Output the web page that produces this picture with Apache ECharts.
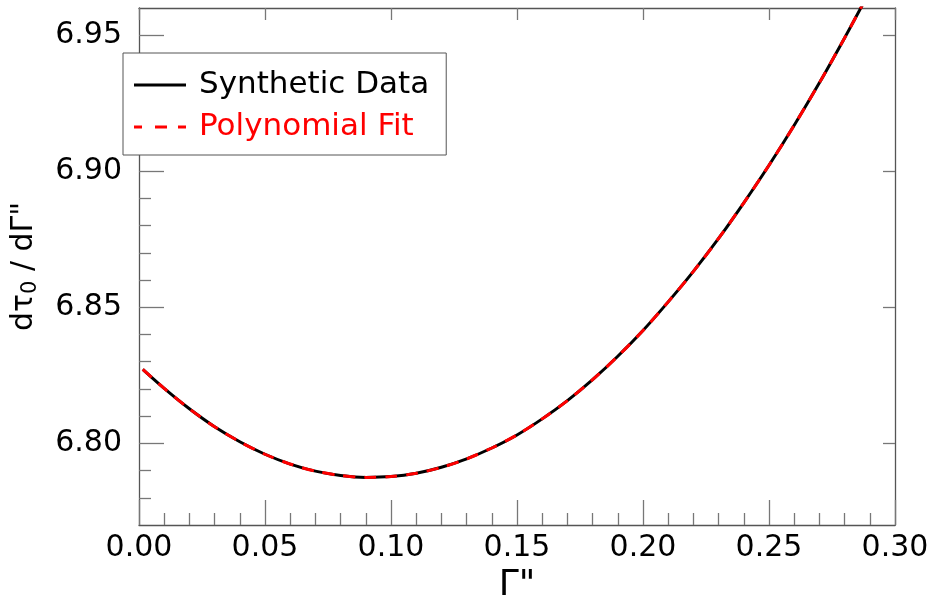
<!DOCTYPE html>
<html>
<head>
<meta charset="utf-8">
<script src="https://cdn.jsdelivr.net/npm/echarts@6/dist/echarts.min.js"></script>
<style>
html,body{margin:0;padding:0;background:#fff;}
#chart{width:935px;height:598px;}
</style>
</head>
<body>
<div id="chart"></div>
<script>
// Γ'' values (x)
const gamma = [0.0015, 0.01, 0.02, 0.03, 0.04, 0.05, 0.06, 0.07, 0.08, 0.09, 0.10,
  0.11, 0.12, 0.13, 0.14, 0.15, 0.16, 0.17, 0.18, 0.19, 0.20,
  0.21, 0.22, 0.23, 0.24, 0.25, 0.26, 0.27, 0.28, 0.287];
// dτ0/dΓ'' synthetic data
const synthetic = [6.8272, 6.8202, 6.8127, 6.8061, 6.8006, 6.7960, 6.7924, 6.7898, 6.7882, 6.7875, 6.7878,
  6.7890, 6.7912, 6.7943, 6.7983, 6.8031, 6.8090, 6.8157, 6.8234, 6.8320, 6.8415,
  6.8520, 6.8632, 6.8753, 6.8884, 6.9022, 6.9169, 6.9325, 6.9490, 6.9610];
// polynomial fit (indistinguishable from the data in the picture)
const polyFit = [6.8272, 6.8202, 6.8127, 6.8061, 6.8006, 6.7960, 6.7924, 6.7898, 6.7882, 6.7875, 6.7878,
  6.7890, 6.7912, 6.7943, 6.7983, 6.8031, 6.8090, 6.8157, 6.8234, 6.8320, 6.8415,
  6.8520, 6.8632, 6.8753, 6.8884, 6.9022, 6.9169, 6.9325, 6.9490, 6.9610];
const yMajorTicks = [6.80, 6.85, 6.90, 6.95];
const yMinorTicks = [6.78, 6.79, 6.81, 6.82, 6.83, 6.84, 6.86, 6.87, 6.88, 6.89, 6.91, 6.92, 6.93, 6.94];
const xMin = 0, xMax = 0.30, xStep = 0.05;
const yMin = 6.77, yMax = 6.96;

const font = 'DejaVu Sans';
const axisCol = '#555';
const tickCol = '#777';

const chart = echarts.init(document.getElementById('chart'), null, {renderer: 'canvas'});
const pairs = (ys) => gamma.map((g, i) => [g, ys[i]]);

chart.setOption({
  animation: false,
  backgroundColor: '#fff',
  grid: {left: 139, right: 40, top: 8, bottom: 73, containLabel: false, outerBoundsMode: 'none'},
  legend: {
    orient: 'vertical',
    left: 123, top: 53,
    padding: [15, 17, 11, 11],
    itemWidth: 52, itemHeight: 3, itemGap: 8,
    backgroundColor: '#fff',
    borderColor: axisCol, borderWidth: 1, borderRadius: 0,
    itemStyle: {borderWidth: 0},
    textStyle: {fontFamily: font, fontSize: 31, lineHeight: 34, color: '#000', padding: [0, 0, 0, 8]},
    data: [
      {name: 'Synthetic Data', icon: 'path://M0,0h52v3h-52z', textStyle: {color: '#000'}},
      {name: 'Polynomial Fit', icon: 'path://M0,0h8v3h-8z M21,0h12v3h-12z M44,0h8v3h-8z', textStyle: {color: '#ff0000'}}
    ]
  },
  xAxis: [
    {
      type: 'value', min: xMin, max: xMax, interval: xStep, position: 'bottom',
      name: 'Γ"', nameLocation: 'middle', nameGap: 40,
      nameTextStyle: {fontFamily: font, fontSize: 36, color: '#000'},
      axisLine: {show: true, lineStyle: {color: axisCol, width: 1.3}},
      axisTick: {show: true, inside: true, length: 25, lineStyle: {color: tickCol, width: 1.3}},
      minorTick: {show: true, splitNumber: 5, length: 12, lineStyle: {color: tickCol, width: 1.3}},
      axisLabel: {fontFamily: font, fontSize: 30, color: '#000', margin: 8,
        formatter: v => v.toFixed(2), showMinLabel: true, showMaxLabel: true},
      splitLine: {show: false}, minorSplitLine: {show: false}
    },
    {
      type: 'value', min: xMin, max: xMax, interval: xStep, position: 'top',
      axisLine: {show: true, lineStyle: {color: axisCol, width: 1.3}},
      axisTick: {show: true, inside: true, length: 12, lineStyle: {color: tickCol, width: 1.3}},
      axisLabel: {show: false}, splitLine: {show: false}
    }
  ],
  yAxis: [
    {
      type: 'value', min: yMin, max: yMax, position: 'left',
      name: 'dτ{sub|0} / dΓ"', nameLocation: 'middle', nameGap: 98, nameRotate: 90,
      nameTextStyle: {fontFamily: font, fontSize: 30, color: '#000',
        rich: {sub: {fontFamily: font, fontSize: 21, color: '#000', verticalAlign: 'bottom', padding: [12, 0, 0, 0]}}},
      axisLine: {show: true, lineStyle: {color: axisCol, width: 1.3}},
      axisTick: {show: true, inside: true, length: 25, customValues: yMajorTicks, lineStyle: {color: tickCol, width: 1.3}},
      axisLabel: {fontFamily: font, fontSize: 30, color: '#000', margin: 17, customValues: yMajorTicks,
        formatter: v => v.toFixed(2)},
      splitLine: {show: false}
    },
    {
      type: 'value', min: yMin, max: yMax, position: 'left',
      axisLine: {show: false},
      axisTick: {show: true, inside: true, length: 12, customValues: yMinorTicks, lineStyle: {color: tickCol, width: 1.3}},
      axisLabel: {show: false}, splitLine: {show: false}
    },
    {
      type: 'value', min: yMin, max: yMax, position: 'right',
      axisLine: {show: true, lineStyle: {color: axisCol, width: 1.3}},
      axisTick: {show: true, inside: true, length: 12, customValues: yMajorTicks, lineStyle: {color: tickCol, width: 1.3}},
      axisLabel: {show: false}, splitLine: {show: false}
    }
  ],
  series: [
    {
      name: 'Synthetic Data', type: 'line', xAxisIndex: 0, yAxisIndex: 0,
      data: pairs(synthetic), showSymbol: false, symbol: 'none', smooth: 0.3,
      lineStyle: {color: '#000', width: 3, type: 'solid'}, itemStyle: {color: '#000'}, z: 2
    },
    {
      name: 'Polynomial Fit', type: 'line', xAxisIndex: 0, yAxisIndex: 0,
      data: pairs(polyFit), showSymbol: false, symbol: 'none', smooth: 0.3,
      lineStyle: {color: '#ff0000', width: 3, type: [12, 9]}, itemStyle: {color: '#ff0000'}, z: 3
    }
  ]
});
</script>
</body>
</html>
